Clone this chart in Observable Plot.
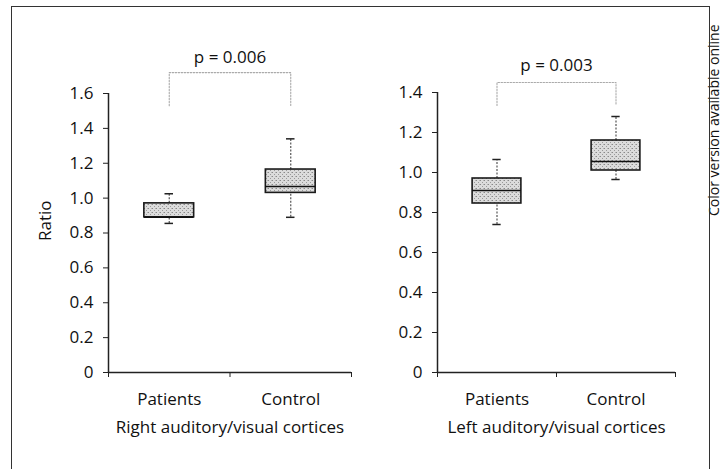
<!DOCTYPE html>
<html><head><meta charset="utf-8">
<script src="https://cdn.jsdelivr.net/npm/d3@7"></script>
<script src="https://cdn.jsdelivr.net/npm/@observablehq/plot@0.6"></script>
<style>
body{margin:0;background:#fff;font-family:"Open Sans",sans-serif;}
#wrap{position:relative;width:722px;height:469px;overflow:hidden;background:#fff}
#frame{position:absolute;left:11px;top:6px;width:699px;height:520px;border:1.5px solid #333;box-sizing:border-box;z-index:2;pointer-events:none}
.panel{position:absolute;top:0}
#note{position:absolute;left:707px;top:216px;transform-origin:0 0;transform:rotate(-90deg);font-size:14px;line-height:14px;white-space:nowrap;color:#111}
</style>
</head><body>
<div id="wrap">
  <div id="frame"></div>
  <div id="p1" class="panel" style="left:0px"></div>
  <div id="p2" class="panel" style="left:360px"></div>
  <div id="note">Color version available online</div>
</div>
<script>
// ---- data ----
const categories = ["Patients", "Control"];

// Panel A: Right auditory/visual cortices
const rightMin    = [0.855, 0.89];
const rightQ1     = [0.89, 1.03];
const rightMedian = [0.89, 1.067];
const rightQ3     = [0.97, 1.164];
const rightMax    = [1.025, 1.34];
const rightYTicks = [0, 0.2, 0.4, 0.6, 0.8, 1.0, 1.2, 1.4, 1.6];
const rightP      = "p = 0.006";
const rightBracket = [1.53, 1.72];   // bottom, top of the significance bracket
const rightPLevel  = 1.806;
const rightTitle   = "Right auditory/visual cortices";

// Panel B: Left auditory/visual cortices
const leftMin    = [0.74, 0.965];
const leftQ1     = [0.845, 1.01];
const leftMedian = [0.91, 1.055];
const leftQ3     = [0.97, 1.16];
const leftMax    = [1.065, 1.28];
const leftYTicks = [0, 0.2, 0.4, 0.6, 0.8, 1.0, 1.2, 1.4];
const leftP      = "p = 0.003";
const leftBracket = [1.335, 1.45];
const leftPLevel  = 1.535;
const leftTitle   = "Left auditory/visual cortices";

const yLabel = "Ratio";

function panel(cfg) {
  const rows = categories.map((c, i) => ({
    c, x: i + 0.5,
    lo: cfg.min[i], q1: cfg.q1[i], med: cfg.med[i], q3: cfg.q3[i], hi: cfg.max[i]
  }));
  const half = 0.205, cap = 0.035;
  const bracket = [
    {x: rows[0].x, y: cfg.bracket[0]}, {x: rows[0].x, y: cfg.bracket[1]},
    {x: rows[1].x, y: cfg.bracket[1]}, {x: rows[1].x, y: cfg.bracket[0]}
  ];
  const ticks = cfg.yTicks;
  const fs = 17;
  const marks = [
    Plot.ruleX(rows, {x: "x", y1: "q3", y2: "hi", stroke: "#555", strokeWidth: 1.2, strokeDasharray: "2,1.5"}),
    Plot.ruleX(rows, {x: "x", y1: "lo", y2: "q1", stroke: "#555", strokeWidth: 1.2, strokeDasharray: "2,1.5"}),
    Plot.ruleY(rows, {y: "hi", x1: d => d.x - cap, x2: d => d.x + cap, stroke: "#222", strokeWidth: 1.5}),
    Plot.ruleY(rows, {y: "lo", x1: d => d.x - cap, x2: d => d.x + cap, stroke: "#222", strokeWidth: 1.5}),
    Plot.rect(rows, {x1: d => d.x - half, x2: d => d.x + half, y1: "q1", y2: "q3", fill: `url(#${cfg.pid})`, stroke: "#1a1a1a", strokeWidth: 1.6}),
    Plot.ruleY(rows, {y: "med", x1: d => d.x - half, x2: d => d.x + half, stroke: "#111", strokeWidth: 1.6}),
    Plot.line(bracket, {x: "x", y: "y", stroke: "#aaa", strokeWidth: 1.1, strokeDasharray: "1.5,1.5"}),
    Plot.text([cfg.p], {x: (rows[0].x + rows[1].x) / 2, y: cfg.pLevel, text: d => d, fontSize: fs, fill: "#111"}),
    Plot.axisY({ticks, tickSize: 5, tickPadding: 10, tickFormat: d => d === 0 ? "0" : d.toFixed(1), fontSize: fs, label: null, stroke: "#222", fill: "#111"}),
    Plot.axisX({ticks: [0, 1, 2], tickSize: 5, tickFormat: () => "", label: null, stroke: "#222"}),
    Plot.ruleX([0], {stroke: "#222", strokeWidth: 1.5}),
    Plot.ruleY([0], {stroke: "#222", strokeWidth: 1.5}),
    Plot.text(rows, {x: "x", text: "c", frameAnchor: "bottom", dy: 27, lineAnchor: "middle", fontSize: fs, fill: "#111"}),
    Plot.text([cfg.title], {x: 1, text: d => d, frameAnchor: "bottom", dy: 55, lineAnchor: "middle", fontSize: fs, fill: "#111"})
  ];
  if (cfg.ylab) marks.push(Plot.text([cfg.ylab], {text: d => d, frameAnchor: "left", dx: -63, dy: 8, rotate: -90, fontSize: fs, fill: "#111"}));
  const svg = Plot.plot({
    width: cfg.width, height: 469,
    marginLeft: cfg.ml, marginRight: cfg.mr, marginTop: cfg.mt, marginBottom: 97,
    x: {type: "linear", domain: [0, 2], axis: null},
    y: {domain: [0, ticks[ticks.length - 1]], axis: null},
    style: {fontFamily: "'Open Sans', sans-serif", fontSize: fs + "px", background: "transparent", color: "#111"},
    marks
  });
  d3.select(svg).insert("defs", ":first-child").html(
    `<pattern id="${cfg.pid}" width="4" height="4" patternUnits="userSpaceOnUse">
       <rect width="4" height="4" fill="#dcdcdc"/>
       <rect x="0" y="0" width="1" height="1" fill="#8a8a8a"/>
       <rect x="2" y="2" width="1" height="1" fill="#9a9a9a"/>
       <rect x="3" y="0" width="1" height="1" fill="#b5b5b5"/>
     </pattern>`);
  return svg;
}

document.getElementById("p1").appendChild(panel({
  min: rightMin, q1: rightQ1, med: rightMedian, q3: rightQ3, max: rightMax,
  yTicks: rightYTicks, p: rightP, bracket: rightBracket, pLevel: rightPLevel, title: rightTitle,
  ylab: yLabel, width: 360, ml: 108, mr: 9, mt: 93, pid: "stipA"
}));
document.getElementById("p2").appendChild(panel({
  min: leftMin, q1: leftQ1, med: leftMedian, q3: leftQ3, max: leftMax,
  yTicks: leftYTicks, p: leftP, bracket: leftBracket, pLevel: leftPLevel, title: leftTitle,
  ylab: null, width: 362, ml: 77, mr: 47, mt: 92, pid: "stipB"
}));
</script>
</body></html>
